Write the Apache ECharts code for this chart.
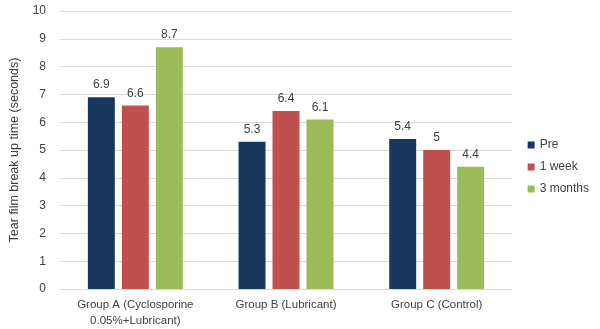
<!DOCTYPE html>
<html><head><meta charset="utf-8">
<script src="https://cdn.jsdelivr.net/npm/echarts@6/dist/echarts.min.js"></script>
<style>html,body{margin:0;padding:0;background:#fff}#c{width:600px;height:329px}</style>
</head><body><div id="c"></div>
<script>
const categories = ["Group A (Cyclosporine\n0.05%+Lubricant)", "Group B (Lubricant)", "Group C (Control)"];
const seriesNames = ["Pre", "1 week", "3 months"];
const pre = [6.9, 5.3, 5.4];
const week1 = [6.6, 6.4, 5];
const months3 = [8.7, 6.1, 4.4];
const yTicks = [0,1,2,3,4,5,6,7,8,9,10];
const colors = ["#17375E", "#C0504D", "#9BBB59"];
const FONT = "Liberation Sans";
const chart = echarts.init(document.getElementById('c'), null, {renderer:'canvas'});
const mk = (name, data, i) => ({
  name, type:'bar', data, barGap:'26%', barCategoryGap:'37%',
  itemStyle:{color:colors[i]},
  label:{show:true, position:'top', distance:6, color:'#404040', fontSize:12, fontFamily:FONT},
  animation:false
});
chart.setOption({
  animation:false,
  textStyle:{fontFamily:FONT},
  grid:{left:57, right:88, top:11, bottom:40},
  legend:{orient:'vertical', right:6, top:134, itemWidth:7, itemHeight:7, itemGap:10,
    icon:'rect', textStyle:{fontSize:12, color:'#404040', fontFamily:FONT},
    data:seriesNames},
  xAxis:{type:'category', data:categories,
    axisLine:{lineStyle:{color:'#D9D9D9'}}, axisTick:{show:false},
    axisLabel:{color:'#404040', fontSize:11.5, fontFamily:FONT, lineHeight:16, margin:8, interval:0}},
  yAxis:{type:'value', min:yTicks[0], max:yTicks[yTicks.length-1], interval:1,
    name:'Tear film break up time (seconds)', nameLocation:'middle', nameGap:39,
    nameTextStyle:{color:'#404040', fontSize:12.5, fontFamily:FONT},
    axisLine:{show:false}, axisTick:{show:false},
    axisLabel:{color:'#404040', fontSize:12, fontFamily:FONT, margin:14},
    splitLine:{lineStyle:{color:'#D9D9D9'}}},
  series:[mk(seriesNames[0], pre, 0), mk(seriesNames[1], week1, 1), mk(seriesNames[2], months3, 2)]
});
</script></body></html>
